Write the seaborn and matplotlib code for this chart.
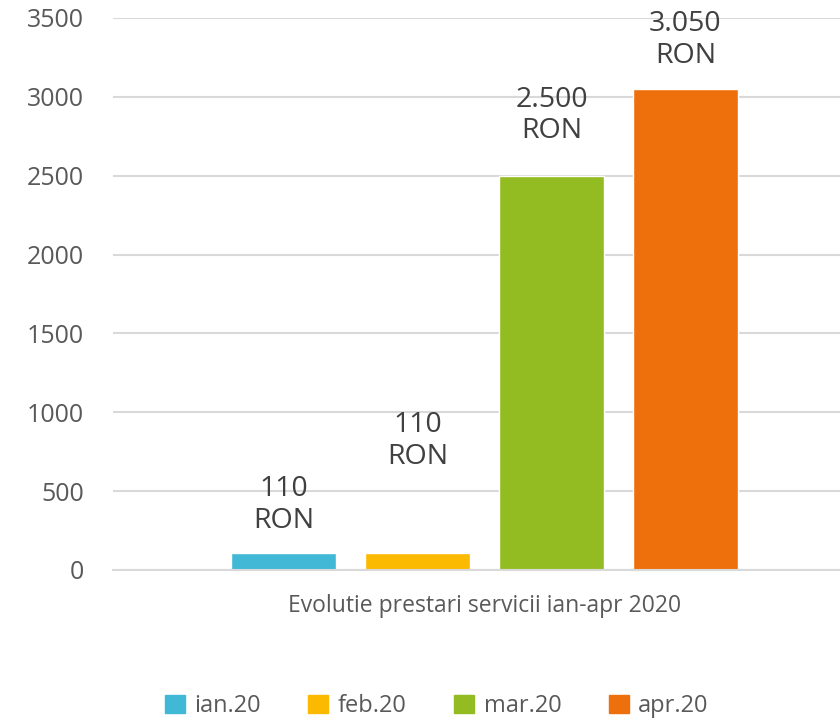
import matplotlib
matplotlib.use("Agg")
import matplotlib.pyplot as plt
import seaborn as sns
import pandas as pd

# data
category = "Evolutie prestari servicii ian-apr 2020"
months = ["ian.20", "feb.20", "mar.20", "apr.20"]
values = [110, 110, 2500, 3050]
value_labels = ["110\nRON", "110\nRON", "2.500\nRON", "3.050\nRON"]
colors = ["#41B8D5", "#FBB900", "#93BC23", "#EE700D"]

df = pd.DataFrame({"cat": [category] * len(months), "month": months, "value": values})

sns.set_theme(style="white")
plt.rcParams["font.family"] = ["Open Sans", "DejaVu Sans"]

fig = plt.figure(figsize=(8.4, 7.25), dpi=100)
ax = fig.add_axes([0.1345, 0.2138, 0.8655, 0.7614])

sns.barplot(data=df, x="cat", y="value", hue="month", palette=colors,
            width=0.737, gap=0.22, saturation=1, legend=False, ax=ax)

ax.set_ylim(0, 3500)
ax.set_xlim(-0.511, 0.489)
ax.set_yticks(range(0, 3501, 500))
ax.yaxis.grid(True, color="#D9D9D9", linewidth=1.5)
ax.set_axisbelow(True)
for s in ["left", "right", "top"]:
    ax.spines[s].set_visible(False)
ax.spines["bottom"].set_color("#D9D9D9")
ax.spines["bottom"].set_linewidth(1.5)
ax.tick_params(axis="both", length=0, colors="#595959")
ax.tick_params(axis="y", pad=21, labelsize=18)
ax.tick_params(axis="x", pad=17, labelsize=16.5)
ax.set_xlabel("")
ax.set_ylabel("")

# data labels, placed by hand above the bars like in the original
label_offsets = [302, 708, 379, 310]
for cont, v, txt, off in zip(ax.containers, values, value_labels, label_offsets):
    bar = cont[0]
    x = bar.get_x() + bar.get_width() / 2
    ax.text(x, v + off, txt, ha="center", va="center", fontsize=20.5,
            color="#404040", linespacing=1.15)

handles = [plt.Rectangle((0, 0), 1, 1, color=c) for c in colors]
fig.legend(handles, months, loc="center", bbox_to_anchor=(0.52, 0.026), ncol=4,
           frameon=False, fontsize=17, handlelength=0.85, handleheight=0.85,
           handletextpad=0.4, columnspacing=2.0, labelcolor="#595959")

fig.savefig("out.png", dpi=100)
